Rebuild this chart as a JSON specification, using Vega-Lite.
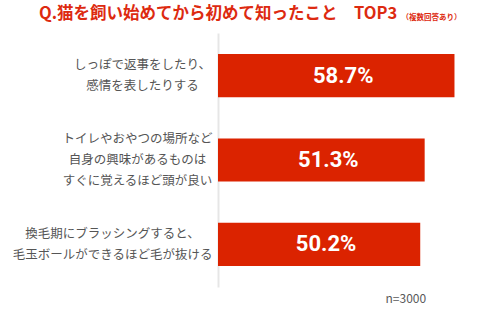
{
  "$schema": "https://vega.github.io/schema/vega-lite/v6.json",
  "autosize": {"type": "none"},
  "width": 282,
  "height": 254,
  "padding": {"left": 218, "top": 33, "right": 0, "bottom": 31},
  "background": "white",
  "title": {
    "text": "Q.猫を飼い始めてから初めて知ったこと　TOP3",
    "anchor": "start",
    "frame": "group",
    "dx": -179,
    "offset": -25,
    "baseline": "bottom",
    "fontSize": 16.5,
    "font": "Noto Sans CJK JP",
    "fontWeight": "bold",
    "color": "#dd2a10"
  },
  "data": {
    "values": [
      {"item": "しっぽで返事をしたり、\n感情を表したりする", "value": 58.7},
      {"item": "トイレやおやつの場所など\n自身の興味があるものは\nすぐに覚えるほど頭が良い", "value": 51.3},
      {"item": "換毛期にブラッシングすると、\n毛玉ボールができるほど毛が抜ける", "value": 50.2}
    ]
  },
  "transform": [
    {"calculate": "datum.value / 2", "as": "mid"},
    {"calculate": "format(datum.value, '.1f') + '%'", "as": "label"}
  ],
  "encoding": {
    "y": {
      "field": "item",
      "type": "nominal",
      "sort": null,
      "scale": {"paddingInner": 0.49, "paddingOuter": 0.25},
      "axis": {
        "labelExpr": "split(datum.label, '\\n')",
        "labelFont": "Noto Sans CJK JP",
        "labelFontSize": 12.5,
        "labelColor": "#555555",
        "labelLineHeight": 21,
        "labelAlign": "center",
        "labelPadding": {
          "condition": [
            {"test": "indexof(datum.value, 'しっぽ') == 0", "value": 76},
            {"test": "indexof(datum.value, 'トイレ') == 0", "value": 81}
          ],
          "value": 106
        },
        "labelLimit": 300,
        "labelOffset": {
          "condition": {"test": "length(split(datum.value, '\\n')) == 3", "value": -21},
          "value": -10.5
        },
        "ticks": false,
        "domainColor": "#e6e6e6",
        "domainWidth": 2,
        "title": "（複数回答あり）",
        "titleAngle": 0,
        "titleX": 183,
        "titleY": -12,
        "titleAlign": "left",
        "titleBaseline": "bottom",
        "titleFont": "Noto Sans CJK JP",
        "titleFontSize": 7.5,
        "titleFontWeight": "bold",
        "titleColor": "#dd2a10"
      }
    }
  },
  "layer": [
    {
      "mark": {"type": "bar", "color": "#db2300"},
      "encoding": {
        "x": {
          "field": "value",
          "type": "quantitative",
          "scale": {"domain": [0, 70]},
          "axis": {
            "labels": false,
            "ticks": false,
            "domain": false,
            "grid": false,
            "title": "n=3000",
            "titleX": 167,
            "titleY": 11,
            "titleAlign": "left",
            "titleBaseline": "middle",
            "titleFont": "Noto Sans CJK JP",
            "titleFontSize": 12,
            "titleFontWeight": "normal",
            "titleColor": "#595959"
          }
        }
      }
    },
    {
      "mark": {"type": "text", "color": "white", "font": "Roboto", "fontSize": 22, "fontWeight": "bold", "dx": 7},
      "encoding": {
        "x": {"field": "mid", "type": "quantitative"},
        "text": {"field": "label", "type": "nominal"}
      }
    }
  ],
  "config": {"view": {"stroke": null}}
}
